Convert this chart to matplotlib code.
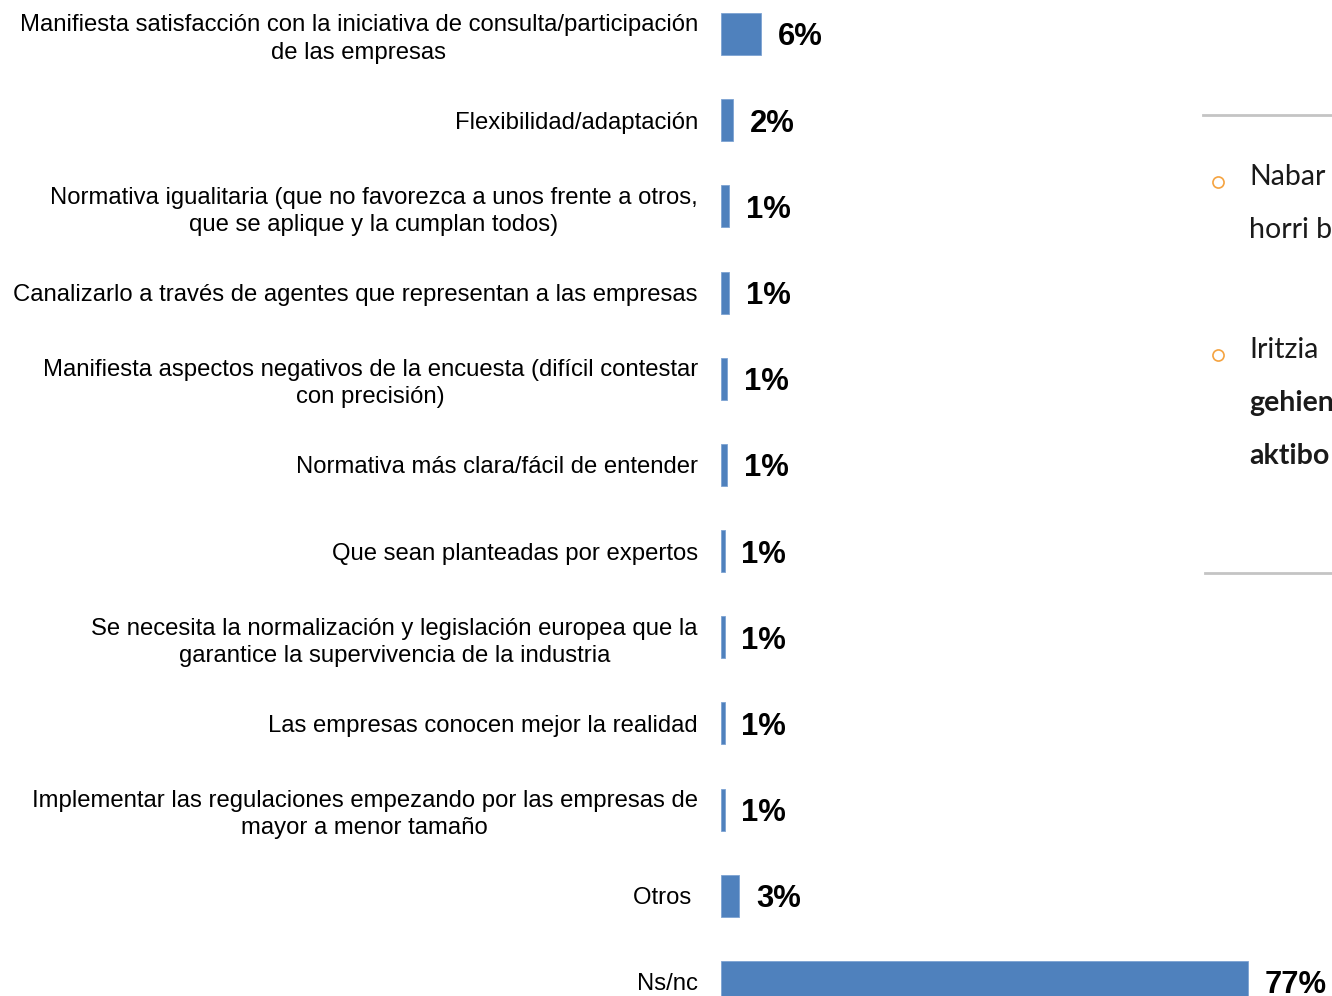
import matplotlib
matplotlib.use("Agg")
import matplotlib.pyplot as plt
from matplotlib.lines import Line2D

plt.rcParams['font.family'] = ['Liberation Sans', 'DejaVu Sans']

categories = [
    "Manifiesta satisfacción con la iniciativa de consulta/participación\nde las empresas",
    "Flexibilidad/adaptación",
    "Normativa igualitaria (que no favorezca a unos frente a otros,\nque se aplique y la cumplan todos)",
    "Canalizarlo a través de agentes que representan a las empresas",
    "Manifiesta aspectos negativos de la encuesta (difícil contestar\ncon precisión)",
    "Normativa más clara/fácil de entender",
    "Que sean planteadas por expertos",
    "Se necesita la normalización y legislación europea que la\ngarantice la supervivencia de la industria",
    "Las empresas conocen mejor la realidad",
    "Implementar las regulaciones empezando por las empresas de\nmayor a menor tamaño",
    "Otros ",
    "Ns/nc",
]
values = [5.9, 1.85, 1.27, 1.27, 0.98, 0.98, 0.58, 0.58, 0.58, 0.58, 2.7, 77.0]

side_lines_1 = ["Nabar", "horri b"]
side_lines_2 = ["Iritzia", "gehien", "aktibo"]

W, H = 1332, 996
fig = plt.figure(figsize=(W / 100, H / 100), dpi=100)

px_per_unit = 527.0 / 77.0
ax_left = 720.7
ax = fig.add_axes([ax_left / W, 0, (W - ax_left) / W, 1])
row = 86.18
top_c = 34.0
ax.set_xlim(0, (W - ax_left) / px_per_unit)
ax.set_ylim((H - top_c) / row, -top_c / row)

ypos = list(range(len(categories)))
ax.barh(ypos, values, height=42 / row, color="#4F81BD", edgecolor="#7da3d3", linewidth=0.6)

for y, v in zip(ypos, values):
    ax.annotate(f"{round(v)}%", xy=(v, y), xytext=(12, -2.5), textcoords="offset points",
                va="center", ha="left", fontsize=22.3, fontweight="bold", color="black",
                annotation_clip=False)

ax.set_yticks(ypos)
ax.set_yticklabels(categories, fontsize=17.2, multialignment="center", color="black",
                   linespacing=1.3)
ax.tick_params(axis="y", length=0, pad=16.5)
ax.tick_params(axis="x", bottom=False, labelbottom=False)
for s in ax.spines.values():
    s.set_visible(False)
ax.patch.set_visible(False)

# Right-side slide fragments
def fx(px):
    return px / W

def fy(py):
    return 1 - py / H

fig.add_artist(Line2D([fx(1203), fx(1332)], [fy(115), fy(115)], color="#c4c4c4", lw=2))
fig.add_artist(Line2D([fx(1205), fx(1332)], [fy(573), fy(573)], color="#c4c4c4", lw=2))

for by in (182, 355):
    fig.add_artist(Line2D([fx(1218)], [fy(by)], marker="o", markersize=8,
                          markerfacecolor="none", markeredgecolor="#f5a340", markeredgewidth=1.2))

font_side = ['Lato', 'DejaVu Sans']
fig.text(fx(1249), fy(177), side_lines_1[0], fontsize=20.5, va="center", ha="left",
         color="#1a1a1a", family=font_side)
fig.text(fx(1249), fy(230), side_lines_1[1], fontsize=20.5, va="center", ha="left",
         color="#1a1a1a", family=font_side)
fig.text(fx(1249), fy(350), side_lines_2[0], fontsize=20.5, va="center", ha="left",
         color="#1a1a1a", family=font_side)
fig.text(fx(1249), fy(403), side_lines_2[1], fontsize=20.5, va="center", ha="left",
         color="#1a1a1a", family=font_side, fontweight="bold")
fig.text(fx(1249), fy(456), side_lines_2[2], fontsize=20.5, va="center", ha="left",
         color="#1a1a1a", family=font_side, fontweight="bold")

fig.savefig("out.png", dpi=100)
